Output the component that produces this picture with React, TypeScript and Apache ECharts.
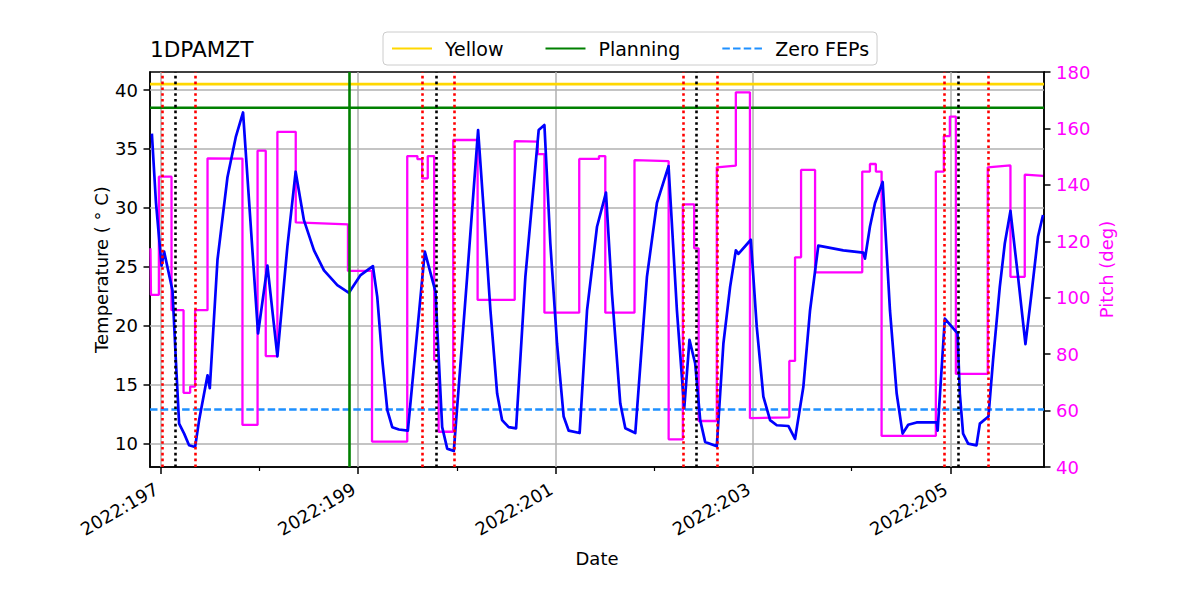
import React, { useEffect, useRef } from "react";
import * as echarts from "echarts";

const X_MIN = 196.89;
const X_MAX = 205.95;
const T_MIN = 8.02;
const T_MAX = 41.53;
const P_MIN = 40;
const P_MAX = 180;

const majorDayTicks = [197, 199, 201, 203, 205];
const minorDayTicks = [198, 200, 202, 204];
const tempTicks = [10, 15, 20, 25, 30, 35, 40];

const yellowLimit = 40.5;
const planningLimit = 38.5;
const zeroFepsLimit = 12.9;
const planningStartDay = 198.906;
const redEventDays = [197.007, 197.347, 199.647, 199.969, 202.29, 202.641, 204.938, 205.388];
const blackEventDays = [197.145, 199.79, 202.428, 205.077];

const tempDays = [
  196.909, 196.95, 197.007, 197.033, 197.118, 197.152, 197.185, 197.236, 197.286, 197.347, 197.388,
  197.473, 197.496, 197.574, 197.675, 197.759, 197.833, 197.985, 198.08, 198.181, 198.282,
  198.366, 198.45, 198.552, 198.653, 198.788, 198.906, 199.024, 199.149, 199.193, 199.244,
  199.295, 199.345, 199.412, 199.503, 199.675, 199.783, 199.817, 199.851, 199.902, 199.969,
  200.104, 200.215, 200.272, 200.34, 200.408, 200.458, 200.525, 200.6, 200.694, 200.829,
  200.887, 200.947, 201.015, 201.082, 201.133, 201.244, 201.319, 201.42, 201.511, 201.572,
  201.656, 201.707, 201.808, 201.926, 202.027, 202.145, 202.23, 202.304, 202.357, 202.415,
  202.466, 202.516, 202.634, 202.701, 202.769, 202.827, 202.853, 202.979, 203.039, 203.106,
  203.174, 203.242, 203.359, 203.427, 203.511, 203.579, 203.663, 203.916, 204.118, 204.136,
  204.186, 204.237, 204.315, 204.389, 204.457, 204.517, 204.574, 204.659, 204.862, 204.872,
  204.945, 205.074, 205.097, 205.13, 205.181, 205.266, 205.3, 205.387, 205.434, 205.502,
  205.553, 205.61, 205.687, 205.762, 205.823, 205.889, 205.94,
];
const tempValues = [
  36.3, 30.5, 25.1, 26.3, 23.0, 17.1, 11.7, 10.85, 9.86, 9.72, 12.0,
  15.8, 14.7, 25.6, 32.6, 36.0, 38.1, 19.35, 25.1, 17.4, 26.7,
  33.07, 28.96, 26.4, 24.7, 23.45, 22.8, 24.3, 25.06, 22.45, 17.1,
  12.85, 11.4, 11.2, 11.1, 26.3, 22.9, 17.1, 11.4, 9.58, 9.38,
  24.15, 36.6, 29.8, 21.3, 14.25, 12.0, 11.4, 11.3, 24.15, 36.6,
  37.03, 27.0, 18.5, 12.3, 11.1, 10.9, 21.3, 28.4, 31.3, 22.7,
  13.4, 11.3, 10.9, 24.15, 30.4, 33.55, 21.3, 13.0, 18.8, 16.8,
  12.0, 10.15, 9.78, 18.5, 23.3, 26.4, 26.1, 27.3, 19.9, 14.0,
  12.0, 11.56, 11.5, 10.4, 14.8, 21.3, 26.8, 26.4, 26.2, 25.7,
  28.4, 30.4, 32.2, 21.3, 14.25, 10.85, 11.6, 11.8, 11.8, 11.1,
  20.6, 19.35, 14.25, 10.85, 10.0, 9.86, 11.7, 12.3, 17.1, 23.3,
  27.0, 29.75, 24.15, 18.45, 22.7, 27.55, 29.4,
];

const pitchDays = [
  196.895, 196.9, 196.98, 196.98, 197.108, 197.108, 197.23, 197.23, 197.297, 197.297,
  197.347, 197.347, 197.473, 197.473, 197.827, 197.827, 197.98, 197.98, 198.063, 198.063,
  198.181, 198.181, 198.367, 198.367, 198.896, 198.896, 199.14, 199.14, 199.497, 199.497,
  199.6, 199.6, 199.648, 199.648, 199.705, 199.705, 199.77, 199.77, 199.815, 199.815,
  199.963, 199.963, 200.21, 200.21, 200.586, 200.586, 200.82, 200.82, 200.887, 200.887,
  201.24, 201.24, 201.44, 201.44, 201.504, 201.504, 201.8, 201.8, 202.146, 202.146,
  202.29, 202.29, 202.405, 202.405, 202.45, 202.45, 202.634, 202.634, 202.827, 202.827,
  202.97, 202.97, 203.369, 203.369, 203.427, 203.427, 203.488, 203.488, 203.63, 203.63,
  204.108, 204.108, 204.186, 204.186, 204.246, 204.246, 204.304, 204.304, 204.854, 204.854,
  204.935, 204.935, 204.996, 204.996, 205.057, 205.057, 205.38, 205.38, 205.61, 205.61,
  205.755, 205.755, 205.94,
];
const pitchValues = [
  117.5, 101, 101, 142.9, 142.9, 95.6, 95.6, 66.3, 66.3, 68.5,
  68.5, 95.6, 95.6, 149.4, 149.3, 54.9, 54.9, 152.1, 152.1, 79.3,
  79.3, 158.8, 158.8, 126.7, 126.0, 109.5, 109.5, 49.0, 49.0, 150.2,
  150.2, 149.1, 149.1, 142.3, 142.3, 150.2, 150.2, 77.9, 77.9, 52.5,
  52.5, 155.9, 155.9, 99.2, 99.2, 155.5, 155.3, 150.9, 150.9, 94.7,
  94.7, 149.2, 149.2, 150.2, 150.2, 94.7, 94.7, 148.8, 148.4, 49.8,
  49.8, 133.1, 133.1, 117.5, 117.5, 56.3, 56.3, 146.2, 146.8, 172.8,
  172.8, 57.3, 57.6, 77.6, 77.6, 114.3, 114.3, 145.3, 145.3, 109.0,
  109.0, 144.7, 144.7, 147.4, 147.4, 144.7, 144.7, 51.0, 51.0, 144.7,
  144.7, 157.3, 157.3, 164.2, 164.2, 73.0, 73.0, 146.2, 146.9, 107.4,
  107.4, 143.6, 143.2,
];

const FONT = "DejaVu Sans";

function buildOption(): any {
  const tempData = tempDays.map((d, i) => [d, tempValues[i]]);
  const pitchData = pitchDays.map((d, i) => [d, pitchValues[i]]);
  const limitLine = (v: number) => [
    [X_MIN, v],
    [X_MAX, v],
  ];
  const dotted = [2.6, 3.2];

  return {
    animation: false,
    backgroundColor: "#ffffff",
    textStyle: { fontFamily: FONT },
    title: {
      text: "1DPAMZT",
      left: 150,
      top: 38,
      padding: 0,
      textStyle: { fontFamily: FONT, fontSize: 21.6, fontWeight: "normal", color: "#000" },
    },
    legend: {
      data: ["Yellow", "Planning", "Zero FEPs"],
      left: 383,
      top: 32,
      padding: [7, 8, 7, 8],
      itemWidth: 40,
      itemHeight: 18,
      itemGap: 41,
      borderColor: "#cccccc",
      borderWidth: 1,
      borderRadius: 4,
      backgroundColor: "rgba(255,255,255,0.8)",
      itemStyle: { opacity: 0 },
      textStyle: { fontFamily: FONT, fontSize: 19, color: "#000", padding: [0, 0, 0, 8] },
    },
    grid: {
      left: 150,
      top: 72,
      width: 894,
      height: 395,
      show: true,
      borderColor: "#000",
      borderWidth: 1.5,
      backgroundColor: "transparent",
      containLabel: false,
      outerBoundsMode: "none",
    },
    xAxis: [
      {
        type: "value",
        min: X_MIN,
        max: X_MAX,
        position: "bottom",
        name: "Date",
        nameLocation: "middle",
        nameGap: 82,
        nameMoveOverlap: false,
        nameTextStyle: { fontFamily: FONT, fontSize: 18, color: "#000" },
        axisLine: { show: true, lineStyle: { color: "#000", width: 1.5 } },
        axisTick: {
          show: true,
          customValues: majorDayTicks,
          length: 7,
          lineStyle: { color: "#000", width: 1.5 },
        },
        axisLabel: {
          customValues: majorDayTicks,
          rotate: 30,
          margin: 18,
          padding: [0, 5, 0, 0],
          fontFamily: FONT,
          fontSize: 18,
          color: "#000",
          formatter: (v: number) => `2022:${Math.round(v)}`,
        },
        splitLine: { show: false },
      },
      {
        type: "value",
        min: X_MIN,
        max: X_MAX,
        position: "bottom",
        axisLine: { show: false },
        axisLabel: { show: false },
        splitLine: { show: false },
        axisTick: {
          show: true,
          customValues: minorDayTicks,
          length: 4,
          lineStyle: { color: "#000", width: 1.2 },
        },
      },
    ],
    yAxis: [
      {
        type: "value",
        min: T_MIN,
        max: T_MAX,
        position: "left",
        name: "Temperature ( ° C)",
        nameLocation: "middle",
        nameRotate: 90,
        nameGap: 40,
        nameMoveOverlap: false,
        nameTextStyle: { fontFamily: FONT, fontSize: 18, color: "#000" },
        axisLine: { show: true, lineStyle: { color: "#000", width: 1.5 } },
        axisTick: {
          show: true,
          customValues: tempTicks,
          length: 6.5,
          lineStyle: { color: "#000", width: 1.5 },
        },
        axisLabel: {
          customValues: tempTicks,
          margin: 12,
          fontFamily: FONT,
          fontSize: 18,
          color: "#000",
        },
        splitLine: { show: false },
      },
      {
        type: "value",
        min: P_MIN,
        max: P_MAX,
        interval: 20,
        position: "right",
        name: "Pitch (deg)",
        nameLocation: "middle",
        nameRotate: 90,
        nameGap: 53,
        nameMoveOverlap: false,
        nameTextStyle: { fontFamily: FONT, fontSize: 18, color: "#ff00ff" },
        axisLine: { show: true, lineStyle: { color: "#000", width: 1.5 } },
        axisTick: { show: true, length: 6.5, lineStyle: { color: "#000", width: 1.5 } },
        axisLabel: { margin: 12, fontFamily: FONT, fontSize: 18, color: "#ff00ff" },
        splitLine: { show: false },
      },
    ],
    series: [
      {
        name: "grid",
        type: "line",
        xAxisIndex: 0,
        yAxisIndex: 0,
        data: [],
        silent: true,
        z: 1,
        markLine: {
          silent: true,
          symbol: "none",
          z: 1,
          animation: false,
          label: { show: false },
          lineStyle: { color: "#b0b0b0", width: 1.5, type: "solid" },
          emphasis: { disabled: true },
          data: [
            ...tempTicks.map((v) => ({ yAxis: v })),
            ...majorDayTicks.map((v) => ({ xAxis: v })),
          ],
        },
      },
      {
        name: "Yellow",
        type: "line",
        xAxisIndex: 0,
        yAxisIndex: 0,
        data: limitLine(yellowLimit),
        symbol: "none",
        z: 3,
        color: "#ffd700",
        lineStyle: { color: "#ffd700", width: 2.6 },
      },
      {
        name: "Planning",
        type: "line",
        xAxisIndex: 0,
        yAxisIndex: 0,
        data: limitLine(planningLimit),
        symbol: "none",
        z: 3,
        color: "#008000",
        lineStyle: { color: "#008000", width: 2.6 },
      },
      {
        name: "Zero FEPs",
        type: "line",
        xAxisIndex: 0,
        yAxisIndex: 0,
        data: limitLine(zeroFepsLimit),
        symbol: "none",
        z: 3,
        color: "#1e90ff",
        lineStyle: { color: "#1e90ff", width: 2.6, type: [7.5, 3.2] },
      },
      {
        name: "Pitch",
        type: "line",
        xAxisIndex: 0,
        yAxisIndex: 1,
        data: pitchData,
        symbol: "none",
        z: 4,
        color: "#ff00ff",
        lineStyle: { color: "#ff00ff", width: 2.3 },
      },
      {
        name: "1DPAMZT",
        type: "line",
        xAxisIndex: 0,
        yAxisIndex: 0,
        data: tempData,
        symbol: "none",
        z: 5,
        color: "#0000ff",
        lineStyle: { color: "#0000ff", width: 2.7, join: "round" },
      },
      {
        name: "events",
        type: "line",
        xAxisIndex: 0,
        yAxisIndex: 0,
        data: [],
        silent: true,
        z: 6,
        markLine: {
          silent: true,
          symbol: "none",
          z: 6,
          animation: false,
          label: { show: false },
          emphasis: { disabled: true },
          data: [
            {
              xAxis: planningStartDay,
              lineStyle: { color: "#008000", width: 2.6, type: "solid" },
            },
            ...redEventDays.map((v) => ({
              xAxis: v,
              lineStyle: { color: "#ff0000", width: 2.6, type: dotted },
            })),
            ...blackEventDays.map((v) => ({
              xAxis: v,
              lineStyle: { color: "#000000", width: 2.6, type: dotted },
            })),
          ],
        },
      },
    ],
  };
}

export default function App() {
  const ref = useRef<HTMLDivElement>(null);
  useEffect(() => {
    if (!ref.current) return;
    const chart = echarts.init(ref.current, null, { renderer: "svg" });
    chart.setOption(buildOption());
    return () => chart.dispose();
  }, []);
  return (
    <div
      ref={ref}
      style={{ position: "fixed", left: 0, top: 0, width: 1200, height: 600, background: "#fff" }}
    />
  );
}
